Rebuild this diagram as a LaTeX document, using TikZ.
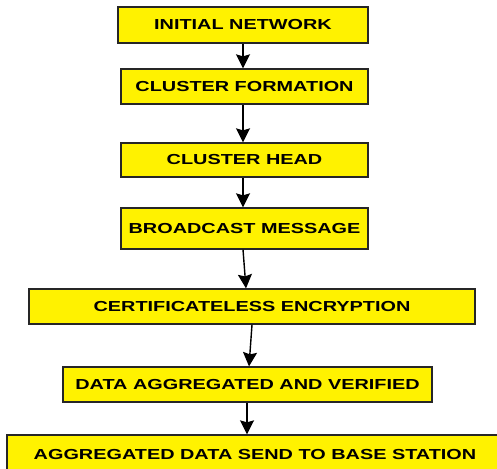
\documentclass[tikz,border=0pt]{standalone}
\usepackage{fontspec}
\setmainfont{Liberation Sans}
\usetikzlibrary{arrows.meta}
% wide bold caps used inside the flow boxes
\newcommand{\steptext}[1]{\scalebox{1.37}[1]{#1}}
\tikzset{
  flowbox/.style={draw=black!85, fill=yellow, line width=1.3pt, inner sep=0pt,
    font=\bfseries\fontsize{14.5}{16}\selectfont},
  flowarrow/.style={draw=black, line width=1.4pt,
    -{Stealth[length=14pt,width=14pt,inset=2pt]}}
}
\begin{document}
\begin{tikzpicture}[x=1pt,y=-1pt]
  \useasboundingbox (0,0) rectangle (497,468);
  \begin{scope}
    \clip (0,0) rectangle (497,468);
    \node[flowbox, minimum width=250pt, minimum height=36pt] (b1) at (243,25)    {\steptext{INITIAL NETWORK}};
    \node[flowbox, minimum width=247pt, minimum height=35pt] (b2) at (244.5,86.5) {\steptext{CLUSTER FORMATION}};
    \node[flowbox, minimum width=247pt, minimum height=34pt] (b3) at (244.5,160) {\steptext{CLUSTER HEAD}};
    \node[flowbox, minimum width=247pt, minimum height=41pt] (b4) at (244.5,228.5) {\steptext{BROADCAST MESSAGE}};
    \node[flowbox, minimum width=446pt, minimum height=35pt] (b5) at (252,306.5) {\steptext{CERTIFICATELESS ENCRYPTION}};
    \node[flowbox, minimum width=369pt, minimum height=35pt] (b6) at (247.5,384.5) {\steptext{DATA AGGREGATED AND VERIFIED}};
    \node[flowbox, minimum width=496pt, minimum height=40pt] (b7) at (255,455) {\steptext{AGGREGATED DATA SEND TO BASE STATION}};

    \draw[flowarrow] (b1.south -| 243,0) -- (b2.north -| 243,0);
    \draw[flowarrow] (b2.south -| 243,0) -- (b3.north -| 243,0);
    \draw[flowarrow] (b3.south -| 243,0) -- (b4.north -| 243,0);
    \draw[flowarrow] (b4.south -| 243,0) -- (b5.north -| 246,0);
    \draw[flowarrow] (b5.south -| 252,0) -- (b6.north -| 249,0);
    \draw[flowarrow] (b6.south -| 247,0) -- (b7.north -| 247,0);
  \end{scope}
\end{tikzpicture}
\end{document}
